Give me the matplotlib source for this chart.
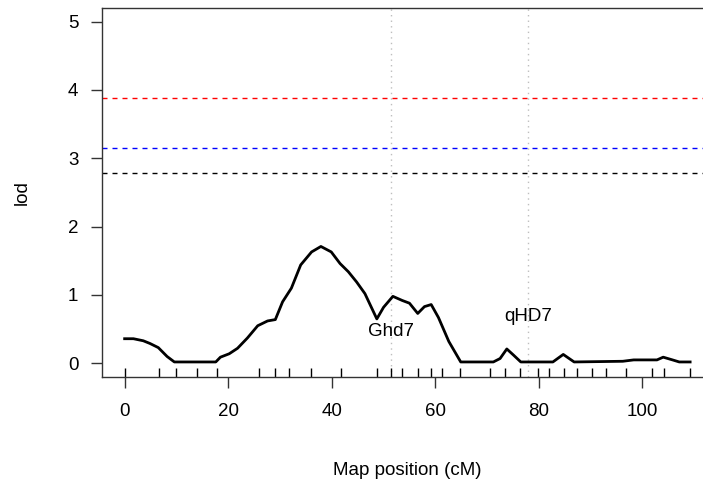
import matplotlib
matplotlib.use('Agg')
import matplotlib.pyplot as plt

plt.rcParams['font.family'] = ['Liberation Sans', 'DejaVu Sans']

# LOD profile along the chromosome
pos = [0, 1.7, 3.6, 4.9, 6.5, 8.2, 9.6, 17.6, 18.5, 20.2, 21.8, 23.7, 25.7, 27.6,
       29.1, 30.5, 32.2, 34.0, 36.1, 37.9, 39.9, 41.6, 43.2, 44.8, 46.4, 48.7,
       50.0, 51.8, 53.6, 55.0, 56.6, 57.9, 59.2, 60.6, 62.6, 64.9, 71.2, 72.5,
       73.8, 75.1, 76.5, 82.7, 84.7, 86.8, 96.2, 98.3, 102.8, 104.0, 105.8,
       107.1, 109.2]
lod = [0.36, 0.36, 0.33, 0.29, 0.23, 0.10, 0.02, 0.02, 0.09, 0.14, 0.22, 0.37,
       0.55, 0.62, 0.64, 0.90, 1.10, 1.44, 1.63, 1.71, 1.63, 1.46, 1.34, 1.19,
       1.02, 0.65, 0.82, 0.98, 0.92, 0.88, 0.73, 0.83, 0.86, 0.67, 0.32, 0.02,
       0.02, 0.07, 0.21, 0.12, 0.02, 0.02, 0.13, 0.02, 0.03, 0.05, 0.05, 0.09,
       0.05, 0.02, 0.02]

# marker positions (rug)
markers = [0, 6.7, 9.9, 14.0, 17.8, 26.0, 29.1, 31.8, 35.9, 41.7, 48.8, 51.4,
           53.5, 56.7, 59.1, 61.3, 64.7, 70.5, 73.5, 76.3, 79.8, 81.9, 84.8,
           87.4, 90.2, 92.9, 96.8, 101.9, 104.1, 109.2]

# significance thresholds
thresholds = [3.89, 3.15, 2.78]
thr_colors = ['#FF0000', '#0000FF', '#000000']

# known genes
gene_names = ['Ghd7', 'qHD7']
gene_pos = [51.4, 77.9]
gene_label_y = [0.46, 0.69]

fig = plt.figure(figsize=(7.03, 4.87), dpi=100)
ax = fig.add_axes([0.1451, 0.2259, 0.869, 0.7577])

for g in gene_pos:
    ax.axvline(g, color='#BEBEBE', lw=1, dashes=(1, 3))

for t, c in zip(thresholds, thr_colors):
    ax.axhline(t, color=c, lw=1, dashes=(3.6, 3.6))

ax.plot(pos, lod, color='black', lw=2.0, solid_joinstyle='round')

ax.vlines(markers, 0, 0.025, color='black', lw=1,
          transform=ax.get_xaxis_transform())

for name, x, y in zip(gene_names, gene_pos, gene_label_y):
    ax.text(x, y, name, ha='center', va='center', fontsize=13.5)

ax.set_xlim(-4.37, 113.6)
ax.set_ylim(-0.2, 5.2)
ax.set_xticks(range(0, 101, 20))
ax.set_yticks(range(0, 6))
ax.tick_params(axis='both', length=8, width=1, labelsize=13.5, color='#333333')
ax.tick_params(axis='x', pad=11)
ax.tick_params(axis='y', pad=9)

for s in ax.spines.values():
    s.set_linewidth(1)
    s.set_color('#333333')

ax.set_xlabel('Map position (cM)', fontsize=13.5, labelpad=30)
ax.set_ylabel('lod', fontsize=13.5, labelpad=27)

fig.savefig('out.png', dpi=100)
